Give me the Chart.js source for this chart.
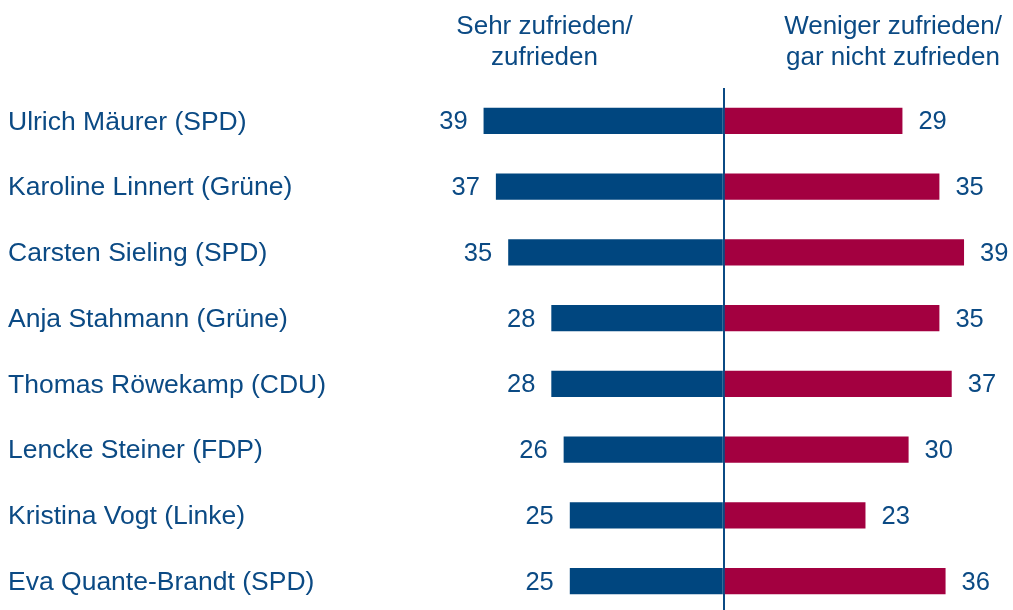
<!DOCTYPE html>
<html>
<head>
<meta charset="utf-8">
<script src="https://cdn.jsdelivr.net/npm/chart.js@4/dist/chart.umd.min.js"></script>
<style>
  html, body { margin: 0; padding: 0; background: #ffffff; overflow: hidden; }
  #wrap { position: relative; width: 1013px; height: 614px; }
</style>
</head>
<body>
<div id="wrap"><canvas id="c"></canvas></div>
<script>
// ---- data ----
const politicians = [
  'Ulrich Mäurer (SPD)',
  'Karoline Linnert (Grüne)',
  'Carsten Sieling (SPD)',
  'Anja Stahmann (Grüne)',
  'Thomas Röwekamp (CDU)',
  'Lencke Steiner (FDP)',
  'Kristina Vogt (Linke)',
  'Eva Quante-Brandt (SPD)'
];
const zufrieden = [39, 37, 35, 28, 28, 26, 25, 25];
const unzufrieden = [29, 35, 39, 35, 37, 30, 23, 36];
const headerLeft = ['Sehr zufrieden/', 'zufrieden'];
const headerRight = ['Weniger zufrieden/', 'gar nicht zufrieden'];

// ---- styles ----
const BLUE = '#00467F';
const RED = '#A30040';
const TEXT = '#0B4A84';
const FONT = "'Liberation Sans', Arial, sans-serif";

const valueLabels = {
  id: 'valueLabels',
  afterDatasetsDraw(chart) {
    const ctx = chart.ctx;
    ctx.save();
    ctx.fillStyle = TEXT;
    ctx.font = '25.5px ' + FONT;
    ctx.textBaseline = 'middle';
    chart.data.datasets.forEach((ds, di) => {
      const meta = chart.getDatasetMeta(di);
      meta.data.forEach((bar, i) => {
        const v = Math.abs(ds.data[i]);
        if (ds.data[i] < 0) {
          ctx.textAlign = 'right';
          ctx.fillText(String(v), bar.x - 16, bar.y + 1.5);
        } else {
          ctx.textAlign = 'left';
          ctx.fillText(String(v), bar.x + 16, bar.y + 1.5);
        }
      });
    });
    ctx.restore();
  }
};

const headers = {
  id: 'headers',
  afterDraw(chart) {
    const ctx = chart.ctx;
    ctx.save();
    ctx.fillStyle = TEXT;
    ctx.font = '26px ' + FONT;
    ctx.textAlign = 'center';
    ctx.textBaseline = 'alphabetic';
    headerLeft.forEach((t, i) => ctx.fillText(t, 544.5, 33.5 + i * 31));
    headerRight.forEach((t, i) => ctx.fillText(t, 893, 33.5 + i * 31));
    ctx.restore();
  }
};

new Chart(document.getElementById('c'), {
  type: 'bar',
  data: {
    labels: politicians,
    datasets: [
      { label: headerLeft.join(' '), data: zufrieden.map(v => -v), backgroundColor: BLUE, borderWidth: 0 },
      { label: headerRight.join(' '), data: unzufrieden, backgroundColor: RED, borderWidth: 0 }
    ]
  },
  options: {
    indexAxis: 'y',
    responsive: true,
    maintainAspectRatio: false,
    animation: false,
    layout: { padding: { left: 8, right: 12, top: 88, bottom: 0 } },
    plugins: { legend: { display: false }, tooltip: { enabled: false }, title: { display: false } },
    datasets: { bar: { barPercentage: 0.4, categoryPercentage: 1.0 } },
    scales: {
      x: {
        stacked: true,
        min: -45, max: 45,
        ticks: { display: false, stepSize: 15 },
        border: { display: false },
        grid: {
          drawTicks: false,
          lineWidth: 2,
          color: (c) => (c.tick && c.tick.value === 0) ? TEXT : 'rgba(0,0,0,0)'
        },
        afterFit: (s) => { s.height = 0; s.paddingLeft = 0; s.paddingRight = 0; }
      },
      y: {
        stacked: true,
        border: { display: false },
        grid: { display: false, drawTicks: false },
        ticks: {
          crossAlign: 'far',
          color: TEXT,
          font: { family: FONT, size: 26.5 },
          padding: 0,
          labelOffset: 1.5
        },
        afterFit: (s) => { s.width = 438.6; s.paddingTop = 0; s.paddingBottom = 0; }
      }
    }
  },
  plugins: [valueLabels, headers]
});
</script>
</body>
</html>
